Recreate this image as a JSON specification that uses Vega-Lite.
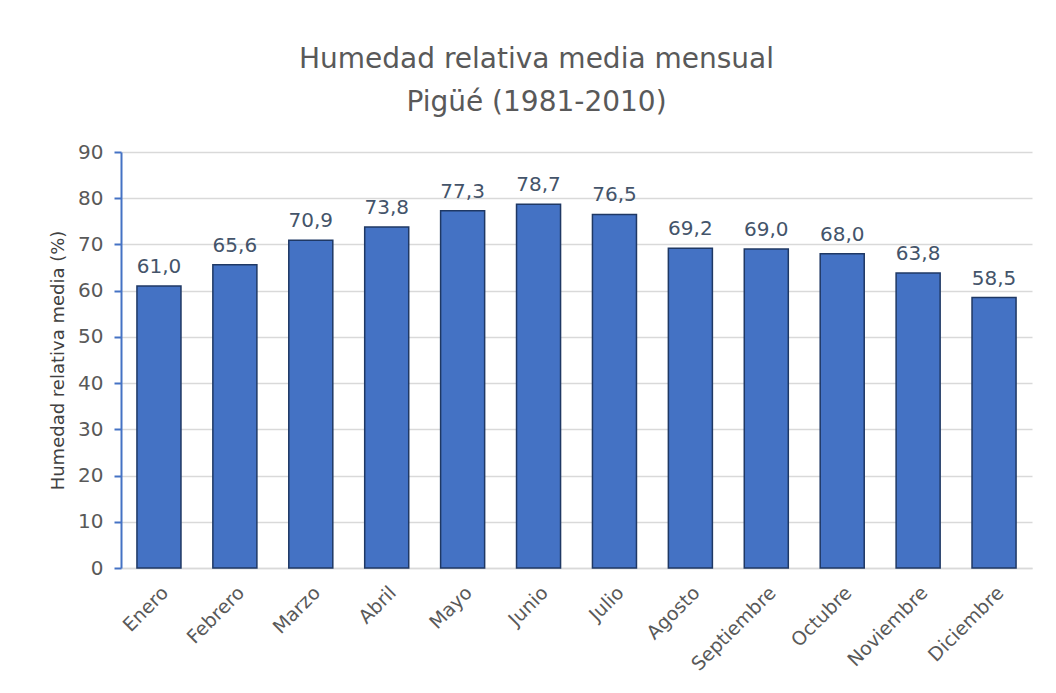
{
  "$schema": "https://vega.github.io/schema/vega-lite/v6.json",
  "width": 911,
  "height": 416,
  "autosize": {"type": "none"},
  "padding": {"left": 121, "top": 152, "right": 24, "bottom": 125},
  "background": "white",
  "config": {
    "locale": {"number": {"decimal": ",", "thousands": ".", "grouping": [3], "currency": ["", ""]}},
    "view": {"stroke": null},
    "font": "DejaVu Sans"
  },
  "title": {
    "text": ["Humedad relativa media mensual", "Pigüé (1981-2010)"],
    "fontSize": 28,
    "fontWeight": "normal",
    "color": "#595959",
    "lineHeight": 43,
    "offset": 25,
    "dx": -40,
    "anchor": "middle"
  },
  "data": {
    "values": [
      {"mes": "Enero", "hr": 61.0},
      {"mes": "Febrero", "hr": 65.6},
      {"mes": "Marzo", "hr": 70.9},
      {"mes": "Abril", "hr": 73.8},
      {"mes": "Mayo", "hr": 77.3},
      {"mes": "Junio", "hr": 78.7},
      {"mes": "Julio", "hr": 76.5},
      {"mes": "Agosto", "hr": 69.2},
      {"mes": "Septiembre", "hr": 69.0},
      {"mes": "Octubre", "hr": 68.0},
      {"mes": "Noviembre", "hr": 63.8},
      {"mes": "Diciembre", "hr": 58.5}
    ]
  },
  "encoding": {
    "x": {
      "field": "mes",
      "type": "nominal",
      "sort": null,
      "scale": {"paddingInner": 0.42, "paddingOuter": 0.21},
      "axis": {
        "title": null,
        "labelAngle": -45,
        "labelFontSize": 19,
        "labelColor": "#595959",
        "labelPadding": 15,
        "ticks": false,
        "domainColor": "#D9D9D9",
        "domainWidth": 1.5
      }
    },
    "y": {
      "field": "hr",
      "type": "quantitative",
      "scale": {"domain": [0, 90]},
      "axis": {
        "title": "Humedad relativa media (%)",
        "titleFontSize": 18,
        "titleFontWeight": "normal",
        "titleColor": "#404040",
        "titlePadding": 10,
        "values": [0, 10, 20, 30, 40, 50, 60, 70, 80, 90],
        "labelFontSize": 20,
        "labelColor": "#595959",
        "labelPadding": 11,
        "tickColor": "#4472C4",
        "tickSize": 7,
        "tickWidth": 2,
        "domainColor": "#4472C4",
        "domainWidth": 2,
        "gridColor": "#D9D9D9",
        "gridWidth": 1.5
      }
    }
  },
  "layer": [
    {
      "mark": {"type": "bar", "color": "#4472C4", "stroke": "#1F3864", "strokeWidth": 1.5}
    },
    {
      "mark": {"type": "text", "baseline": "bottom", "dy": -9, "fontSize": 20, "color": "#44546A"},
      "encoding": {
        "text": {"field": "hr", "type": "quantitative", "format": ".1f"}
      }
    }
  ]
}
